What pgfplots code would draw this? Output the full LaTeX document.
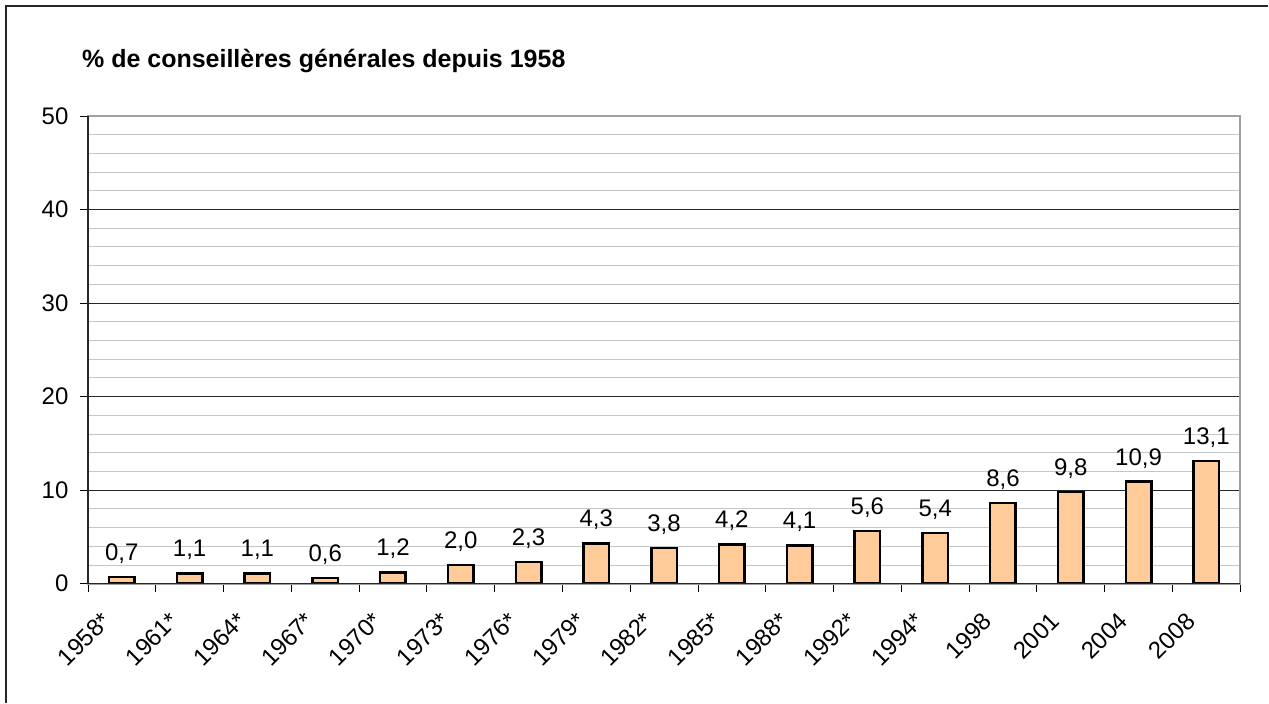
\documentclass[border=0pt]{standalone}
\usepackage{pgfplots}
\pgfplotsset{compat=1.18}
\usepackage{fontspec}
\setmainfont{Liberation Sans}
\definecolor{barfill}{HTML}{FFCC99}
\newcommand{\lbl}{\fontsize{24}{28}\selectfont}
\begin{document}
\begin{tikzpicture}[x=1pt,y=1pt]
\path (0,0) rectangle (1269,703);
\draw[line width=1.6pt, black!85] (6,0) -- (6,697) -- (1269,697);
\node[anchor=base west, inner sep=0pt, font=\fontsize{25}{29}\selectfont\bfseries] at (82,635) {\% de conseillères générales depuis 1958};
\begin{axis}[
  at={(88pt,119pt)}, anchor=south west,
  scale only axis, width=1153pt, height=468pt,
  xmin=-0.5, xmax=16.5, ymin=0, ymax=50,
  ytick={0,10,...,50}, minor ytick={2,4,...,48},
  ymajorgrids, yminorgrids,
  major grid style={black!85, line width=0.7pt},
  minor grid style={gray!45, line width=0.8pt},
  xtick={-0.5,0.5,...,16.5}, xticklabels={},
  extra x ticks={0,...,16},
  extra x tick labels={1958*,1961*,1964*,1967*,1970*,1973*,1976*,1979*,1982*,1985*,1988*,1992*,1994*,1998,2001,2004,2008},
  extra x tick style={major tick length=0pt},
  xticklabel style={font=\lbl, xshift=-13pt, yshift=-31pt, rotate=45, anchor=east},
  tick align=outside, xtick pos=bottom, ytick pos=left,
  major tick length=8pt, minor tick length=0pt,
  tick style={black, line width=0.8pt},
  axis line style={gray!75, line width=1.8pt},
  yticklabel style={font=\lbl, xshift=-8pt},
  /pgf/number format/assume math mode=true,
  after end axis/.code={\draw[black!85, line width=1.4pt] (rel axis cs:0,1) -- (rel axis cs:0,0) -- (rel axis cs:1,0);},
]
\addplot[ybar, bar width=25.5pt, fill=barfill, draw=black, line width=2.5pt,
  nodes near coords={\pgfmathprintnumber[fixed,fixed zerofill,precision=1,use comma]{\pgfplotspointmeta}},
  every node near coord/.append style={font=\lbl, text=black, yshift=9pt}]
coordinates {(0,0.7) (1,1.1) (2,1.1) (3,0.6) (4,1.2) (5,2.0) (6,2.3) (7,4.3) (8,3.8) (9,4.2) (10,4.1) (11,5.6) (12,5.4) (13,8.6) (14,9.8) (15,10.9) (16,13.1)};
\end{axis}
\end{tikzpicture}
\end{document}
